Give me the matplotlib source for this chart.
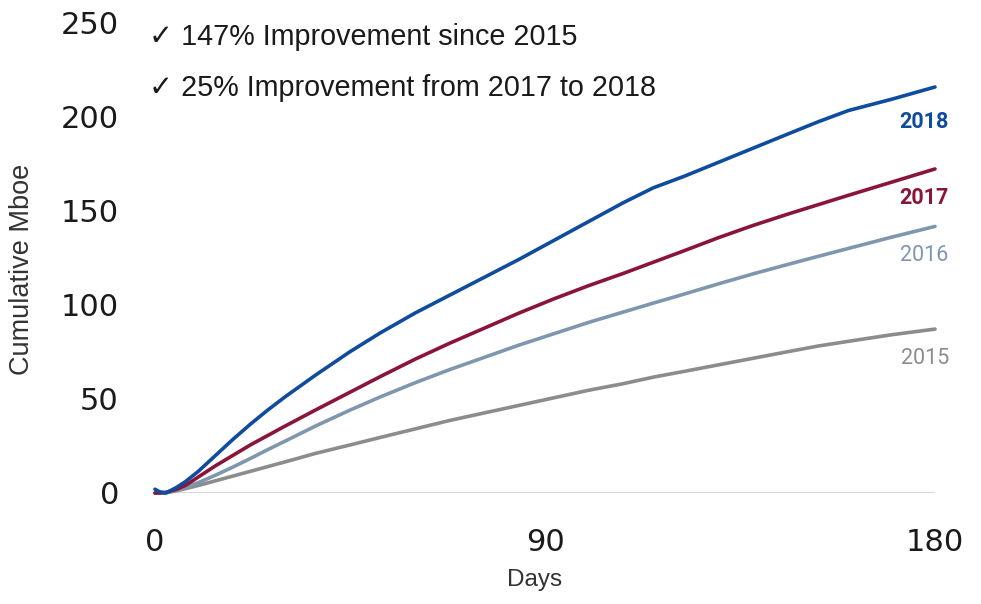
import matplotlib
matplotlib.use("Agg")
import matplotlib.pyplot as plt

# Cumulative production by days on line, one series per well vintage
days = [0, 1, 2.5, 5, 7, 10, 14, 18, 22, 26, 30, 37, 45, 52, 60, 68, 76, 84, 92,
        100, 108, 115, 122, 130, 138, 146, 153, 160, 170, 180]
mboe_2018 = [2, 0.7, 0, 3, 6, 11.5, 20, 28.5, 36.5, 44, 51, 62.5, 75, 85, 95.5, 105,
             114.5, 124, 134, 144, 154, 162, 168, 175.5, 183, 190.5, 197, 203, 209, 215.5]
mboe_2017 = [0, 0, 0.3, 2, 4, 8.5, 14.5, 20, 25.5, 30.5, 35.5, 44, 53.5, 61.8, 71, 79.5,
             87.5, 95.5, 103, 110, 116.5, 122.5, 128.5, 135.5, 142, 148, 153, 158, 165, 172]
mboe_2016 = [0, 0, 0.2, 1.5, 3, 5.5, 9.5, 13.8, 18.3, 23, 27.5, 35.5, 44, 51, 58.5, 65.5,
             72, 78.5, 84.5, 90.5, 96, 100.8, 105.5, 111, 116.3, 121.3, 125.6, 129.8, 135.8, 141.5]
mboe_2015 = [0, 0, 0.1, 1.2, 2.3, 4, 6.5, 9, 11.5, 14, 16.5, 21, 25.5, 29.5, 34, 38.5,
             42.5, 46.5, 50.5, 54.5, 58, 61.5, 64.5, 68, 71.5, 75, 78, 80.5, 84, 87]

years = ["2015", "2016", "2017", "2018"]
series = [mboe_2015, mboe_2016, mboe_2017, mboe_2018]
colors = ["#8c8c8c", "#7f97ae", "#8b1538", "#0f4c9e"]
weights = ["normal", "normal", "bold", "bold"]
label_drop = [15.5, 15.5, 15.5, 18.5]

x_ticks = [0, 90, 180]
y_ticks = [0, 50, 100, 150, 200, 250]

notes = ["147% Improvement since 2015", "25% Improvement from 2017 to 2018"]

W, H = 981, 604
fig = plt.figure(figsize=(W / 100, H / 100), dpi=100)
ax = fig.add_axes([155 / W, (H - 493) / H, (935 - 155) / W, (493 - 22) / H])

ax.axhline(0, color="#d9d9d9", lw=2.2, zorder=1)

for yr, vals, c, w, d in zip(years, series, colors, weights, label_drop):
    ax.plot(days, vals, color=c, lw=2.6, solid_capstyle="round",
            solid_joinstyle="round", clip_on=False, zorder=3)
    ax.text(183.2, vals[-1] - d, yr, color=c, fontsize=15.5, fontweight=w,
            family="Roboto", ha="right", va="center", clip_on=False)

ax.set_xlim(0, 180)
ax.set_ylim(0, 250)
ax.set_xticks(x_ticks)
ax.set_yticks(y_ticks)
ax.tick_params(length=0, labelsize=22, colors="#1a1a1a")
ax.tick_params(axis="y", pad=26)
ax.tick_params(axis="x", pad=25)
for lab in ax.get_xticklabels() + ax.get_yticklabels():
    lab.set_family("DejaVu Sans")

for s in ax.spines.values():
    s.set_visible(False)

fig.text(535 / W, 1 - 580 / H, "Days", fontsize=17.5, family="Liberation Sans",
         color="#333333", ha="center", va="center")
fig.text(22 / W, 1 - 269 / H, "Cumulative Mboe", fontsize=19.5, family="Liberation Sans",
         color="#333333", ha="center", va="center", rotation=90)

for i, t in enumerate(notes):
    fig.text(149 / W, 1 - (37 + 51 * i) / H, "\u2713 " + t, fontsize=20.7,
             family=["Liberation Sans", "DejaVu Sans"], color="#1a1a1a", va="center")

fig.savefig("out.png", dpi=100)
